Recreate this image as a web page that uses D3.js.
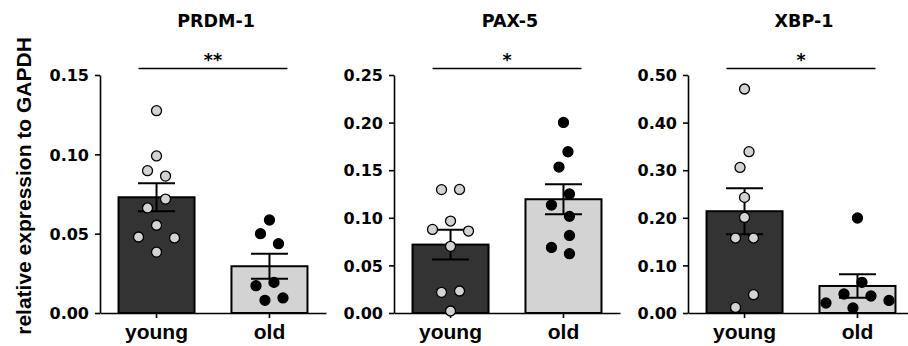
<!DOCTYPE html>
<html>
<head>
<meta charset="utf-8">
<script src="https://cdn.jsdelivr.net/npm/d3@7"></script>
<style>
  body { margin: 0; background: #fff; }
  .tick text { font-family: 'DejaVu Sans', sans-serif; font-weight: bold; }
</style>
</head>
<body>
<svg id="chart" width="908" height="346"></svg>
<script>
// values
const genes = ['PRDM-1', 'PAX-5', 'XBP-1'];
const groups = ['young', 'old'];
const stars = ['**', '*', '*'];
const yMax = [0.15, 0.25, 0.50];
const yStep = [0.05, 0.05, 0.10];

const prdm1Young = [0.1275, 0.099, 0.0897, 0.0863, 0.0718, 0.0662, 0.0553, 0.0479, 0.0473, 0.0384];
const prdm1Old = [0.0586, 0.050, 0.0437, 0.0193, 0.0172, 0.0095, 0.008];
const pax5Young = [0.1298, 0.1296, 0.0966, 0.0878, 0.0861, 0.070, 0.0231, 0.0217, 0.0021];
const pax5Old = [0.2002, 0.1694, 0.1533, 0.125, 0.1134, 0.1015, 0.0815, 0.0689, 0.0623];
const xbp1Young = [0.4706, 0.3389, 0.3059, 0.2429, 0.2008, 0.1575, 0.1575, 0.0385, 0.0118];
const xbp1Old = [0.1996, 0.0644, 0.0399, 0.0357, 0.0265, 0.021, 0.0105];

const values = [[prdm1Young, prdm1Old], [pax5Young, pax5Old], [xbp1Young, xbp1Old]];

const barFill = ['#333333', '#d3d3d3'];
const dotFill = ['#d3d3d3', '#000000'];

const marginLeft = 100, panelGap = 294, plotTop = 75, plotBottom = 313, plotW = 226;
const svg = d3.select('#chart');

// simple scatter layout: greedy slots, then centre each run of close points
function swarm(vals, y) {
  const step = 9, minD = 16;
  const pts = vals.map(v => ({ v, py: y(v), slot: 0 })).sort((a, b) => a.py - b.py);
  const placed = [];
  pts.forEach(p => {
    for (let k = 0; k < 30; k++) {
      const s = k === 0 ? 0 : (k % 2 ? -Math.ceil(k / 2) : k / 2);
      if (placed.every(q => Math.hypot((q.slot - s) * step, q.py - p.py) >= minD)) { p.slot = s; break; }
    }
    placed.push(p);
  });
  let i = 0;
  while (i < pts.length) {
    let j = i;
    while (j + 1 < pts.length && pts[j + 1].py - pts[j].py < minD) j++;
    const run = pts.slice(i, j + 1);
    const shift = d3.mean(run, d => d.slot);
    run.forEach(d => d.dx = (d.slot - shift) * step);
    i = j + 1;
  }
  return pts;
}

genes.forEach((gene, gi) => {
  const g = svg.append('g').attr('transform', `translate(${marginLeft + gi * panelGap},0)`);
  const y = d3.scaleLinear().domain([0, yMax[gi]]).range([plotBottom, plotTop]);
  const x = d3.scaleBand().domain(groups).range([0, plotW]).paddingInner(0.327).paddingOuter(0.164);
  const cx = grp => x(grp) + x.bandwidth() / 2;

  const stats = groups.map((grp, k) => {
    const vals = values[gi][k];
    const mean = d3.mean(vals);
    const sem = d3.deviation(vals) / Math.sqrt(vals.length);
    return { grp, k, vals, mean, sem };
  });

  // bars
  g.selectAll('rect.bar').data(stats).enter().append('rect')
    .attr('class', 'bar')
    .attr('x', d => x(d.grp))
    .attr('width', x.bandwidth())
    .attr('y', d => y(d.mean))
    .attr('height', d => y(0) - y(d.mean))
    .attr('fill', d => barFill[d.k])
    .attr('stroke', '#000')
    .attr('stroke-width', 2);

  // axes
  const yAxis = g.append('g')
    .call(d3.axisLeft(y)
      .tickValues(d3.range(0, yMax[gi] + 1e-9, yStep[gi]))
      .tickFormat(d3.format('.2f'))
      .tickSize(5).tickSizeOuter(0).tickPadding(6));
  yAxis.selectAll('text').attr('font-size', 16).attr('dy', '0.36em').attr('fill', '#000');

  const xAxis = g.append('g').attr('transform', `translate(0,${plotBottom})`)
    .call(d3.axisBottom(x).tickSize(5).tickSizeOuter(0).tickPadding(6));
  xAxis.selectAll('text')
    .style('font-family', "'Liberation Sans', Arial, sans-serif")
    .attr('font-size', 21).attr('fill', '#000');

  [yAxis, xAxis].forEach(a => {
    a.select('.domain').attr('stroke', '#000').attr('stroke-width', 1.6);
    a.selectAll('.tick line').attr('stroke', '#000').attr('stroke-width', 1.6);
  });

  // error bars (mean ± SEM)
  const eb = g.selectAll('g.err').data(stats).enter().append('g').attr('class', 'err')
    .attr('stroke', '#000').attr('stroke-width', 2);
  eb.append('line')
    .attr('x1', d => cx(d.grp)).attr('x2', d => cx(d.grp))
    .attr('y1', d => y(d.mean + d.sem)).attr('y2', d => y(d.mean - d.sem));
  [1, -1].forEach(sgn => {
    eb.append('line')
      .attr('x1', d => cx(d.grp) - 18.5).attr('x2', d => cx(d.grp) + 18.5)
      .attr('y1', d => y(d.mean + sgn * d.sem)).attr('y2', d => y(d.mean + sgn * d.sem));
  });

  // individual points
  stats.forEach(s => {
    g.selectAll(null).data(swarm(s.vals, y)).enter().append('circle')
      .attr('cx', d => cx(s.grp) + d.dx)
      .attr('cy', d => d.py)
      .attr('r', 5)
      .attr('fill', dotFill[s.k])
      .attr('stroke', '#000')
      .attr('stroke-width', 1.3);
  });

  // title
  g.append('text')
    .attr('x', plotW / 2 + 3).attr('y', 27)
    .attr('text-anchor', 'middle')
    .style('font-family', "'DejaVu Sans', sans-serif")
    .style('font-weight', 'bold').style('font-size', '17.5px')
    .text(gene);

  // significance bracket
  const sx0 = cx(groups[0]) - 18, sx1 = cx(groups[1]) + 18;
  g.append('line')
    .attr('x1', sx0).attr('x2', sx1).attr('y1', 68.5).attr('y2', 68.5)
    .attr('stroke', '#000').attr('stroke-width', 1.5);
  g.append('text')
    .attr('x', (sx0 + sx1) / 2).attr('y', 66)
    .attr('text-anchor', 'middle')
    .style('font-family', "'DejaVu Sans', sans-serif")
    .style('font-weight', 'bold').style('font-size', '17.5px')
    .text(stars[gi]);
});

// shared y-axis title
svg.append('text')
  .attr('transform', 'translate(31,186) rotate(-90)')
  .attr('text-anchor', 'middle')
  .style('font-family', "'Liberation Sans', Arial, sans-serif")
  .style('font-weight', 'bold').style('font-size', '21px')
  .text('relative expression to GAPDH');
</script>
</body>
</html>
